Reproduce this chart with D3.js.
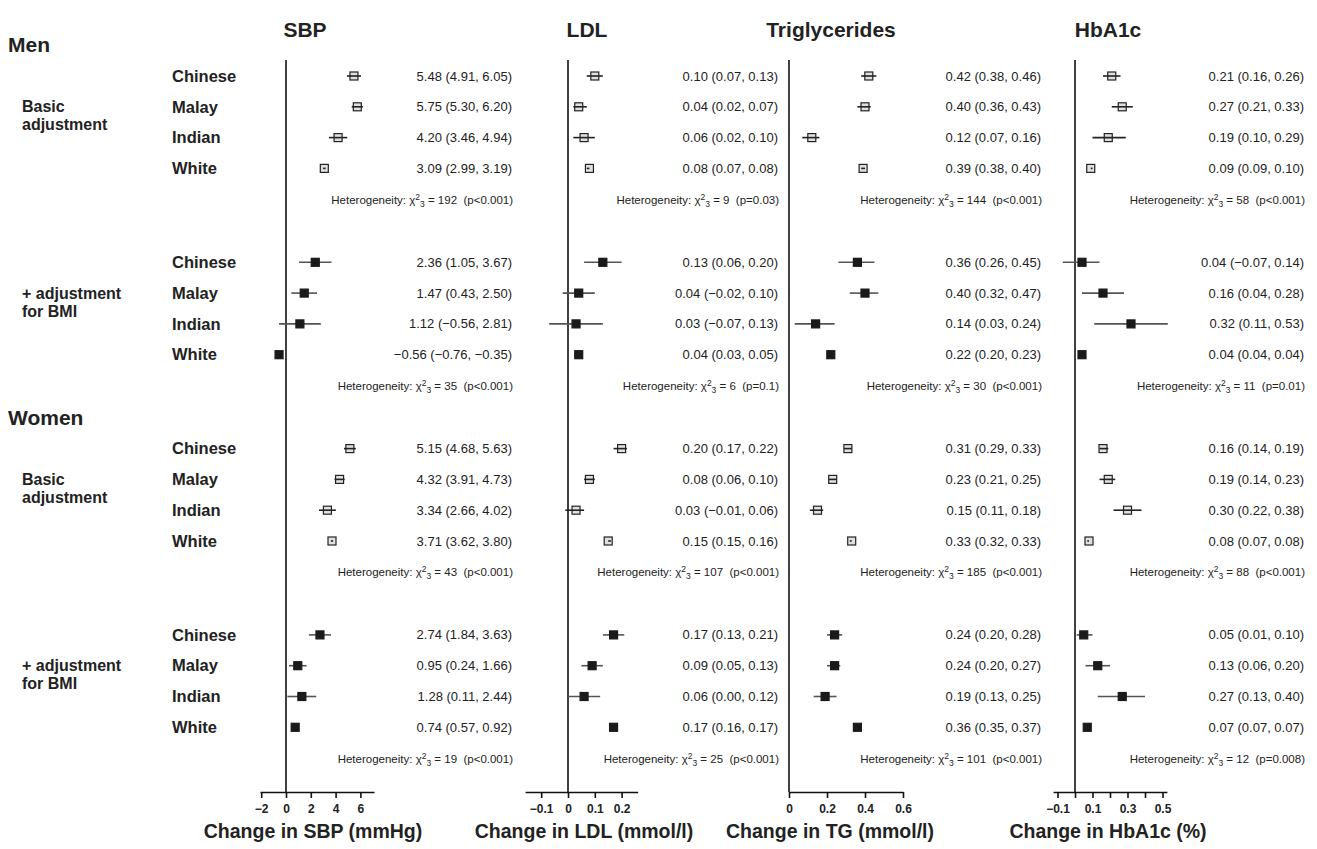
<!DOCTYPE html>
<html>
<head>
<meta charset="utf-8">
<script src="https://cdn.jsdelivr.net/npm/d3@7"></script>
<style>
  body { margin: 0; background: #fff; }
  svg { font-family: "Liberation Sans", Arial, sans-serif; }
</style>
</head>
<body>
<svg width="1317" height="849"></svg>
<script>
// ---- data ----
var ethnicities = ["Chinese", "Malay", "Indian", "White"];
var sexes = ["Men", "Women"];
var adjustments = [["Basic", "adjustment"], ["+ adjustment", "for BMI"]];

// [estimate, lower, upper] ; order: men basic, men BMI, women basic, women BMI
var sbp = [
  [5.48, 4.91, 6.05], [5.75, 5.30, 6.20], [4.20, 3.46, 4.94], [3.09, 2.99, 3.19],
  [2.36, 1.05, 3.67], [1.47, 0.43, 2.50], [1.12, -0.56, 2.81], [-0.56, -0.76, -0.35],
  [5.15, 4.68, 5.63], [4.32, 3.91, 4.73], [3.34, 2.66, 4.02], [3.71, 3.62, 3.80],
  [2.74, 1.84, 3.63], [0.95, 0.24, 1.66], [1.28, 0.11, 2.44], [0.74, 0.57, 0.92]
];
var ldl = [
  [0.10, 0.07, 0.13], [0.04, 0.02, 0.07], [0.06, 0.02, 0.10], [0.08, 0.07, 0.08],
  [0.13, 0.06, 0.20], [0.04, -0.02, 0.10], [0.03, -0.07, 0.13], [0.04, 0.03, 0.05],
  [0.20, 0.17, 0.22], [0.08, 0.06, 0.10], [0.03, -0.01, 0.06], [0.15, 0.15, 0.16],
  [0.17, 0.13, 0.21], [0.09, 0.05, 0.13], [0.06, 0.00, 0.12], [0.17, 0.16, 0.17]
];
var tg = [
  [0.42, 0.38, 0.46], [0.40, 0.36, 0.43], [0.12, 0.07, 0.16], [0.39, 0.38, 0.40],
  [0.36, 0.26, 0.45], [0.40, 0.32, 0.47], [0.14, 0.03, 0.24], [0.22, 0.20, 0.23],
  [0.31, 0.29, 0.33], [0.23, 0.21, 0.25], [0.15, 0.11, 0.18], [0.33, 0.32, 0.33],
  [0.24, 0.20, 0.28], [0.24, 0.20, 0.27], [0.19, 0.13, 0.25], [0.36, 0.35, 0.37]
];
var hba1c = [
  [0.21, 0.16, 0.26], [0.27, 0.21, 0.33], [0.19, 0.10, 0.29], [0.09, 0.09, 0.10],
  [0.04, -0.07, 0.14], [0.16, 0.04, 0.28], [0.32, 0.11, 0.53], [0.04, 0.04, 0.04],
  [0.16, 0.14, 0.19], [0.19, 0.14, 0.23], [0.30, 0.22, 0.38], [0.08, 0.07, 0.08],
  [0.05, 0.01, 0.10], [0.13, 0.06, 0.20], [0.27, 0.13, 0.40], [0.07, 0.07, 0.07]
];
// heterogeneity chi-square (3 df) and p per block
var sbpHet = [[192, "p<0.001"], [35, "p<0.001"], [43, "p<0.001"], [19, "p<0.001"]];
var ldlHet = [[9, "p=0.03"], [6, "p=0.1"], [107, "p<0.001"], [25, "p<0.001"]];
var tgHet = [[144, "p<0.001"], [30, "p<0.001"], [185, "p<0.001"], [101, "p<0.001"]];
var hbHet = [[58, "p<0.001"], [11, "p=0.01"], [88, "p<0.001"], [12, "p=0.008"]];

var sbpTicks = [-2, 0, 2, 4, 6];
var ldlTicks = [-0.1, 0, 0.1, 0.2];
var tgTicks = [0, 0.2, 0.4, 0.6];
var hbTicks = [-0.1, 0, 0.1, 0.2, 0.3, 0.4, 0.5];
var hbLabels = [-0.1, 0.1, 0.3, 0.5];

var panels = [
  {title: "SBP", xlabel: "Change in SBP (mmHg)", data: sbp, het: sbpHet, domain: [-2.1, 7.1], zero: 286, ppu: 12.4,
   ticks: sbpTicks, labels: sbpTicks, textRight: 512, titleX: 305, xlabelX: 313},
  {title: "LDL", xlabel: "Change in LDL (mmol/l)", data: ldl, het: ldlHet, domain: [-0.16, 0.26], zero: 568, ppu: 268,
   ticks: ldlTicks, labels: ldlTicks, textRight: 778, titleX: 587, xlabelX: 584},
  {title: "Triglycerides", xlabel: "Change in TG (mmol/l)", data: tg, het: tgHet, domain: [0, 0.6], zero: 789, ppu: 190,
   ticks: tgTicks, labels: tgTicks, textRight: 1041, titleX: 831, xlabelX: 830},
  {title: "HbA1c", xlabel: "Change in HbA1c (%)", data: hba1c, het: hbHet, domain: [-0.125, 0.525], zero: 1075, ppu: 175,
   ticks: hbTicks, labels: hbLabels, textRight: 1304, titleX: 1108, xlabelX: 1108}
];

// ---- layout ----
var svg = d3.select("svg");
var firstRow = 76, blockGap = 186.3, rowGap = 30.8, axisY = 792, lineTop = 60;
function rowY(block, i) { return firstRow + block * blockGap + i * rowGap; }
function fmt(v) { return v.toFixed(2).replace("-", "\u2212"); }
function fmtTick(v) { return d3.format("")(+v.toFixed(2)).replace("-", "\u2212"); }

// left labels
sexes.forEach(function(s, si) {
  svg.append("text").attr("x", 8).attr("y", rowY(si * 2, 0) - 31)
    .attr("dy", "0.35em").style("font-size", "21px").style("font-weight", "bold").attr("fill", "#222").text(s);
  adjustments.forEach(function(a, ai) {
    var b = si * 2 + ai;
    a.forEach(function(line, li) {
      svg.append("text").attr("x", 22).attr("y", rowY(b, 1) + li * 18)
        .attr("dy", "0.35em").style("font-size", "16px").style("font-weight", "bold").attr("fill", "#222").text(line);
    });
    ethnicities.forEach(function(e, ei) {
      svg.append("text").attr("x", 172).attr("y", rowY(b, ei))
        .attr("dy", "0.35em").style("font-size", "16.5px").style("font-weight", "bold").attr("fill", "#222").text(e);
    });
  });
});

panels.forEach(function(p) {
  var x = d3.scaleLinear().domain(p.domain)
    .range([p.zero + p.domain[0] * p.ppu, p.zero + p.domain[1] * p.ppu]);
  var g = svg.append("g");

  g.append("text").attr("x", p.titleX).attr("y", 30).attr("text-anchor", "middle").attr("dy", "0.35em")
    .style("font-size", "21px").style("font-weight", "bold").attr("fill", "#222").text(p.title);

  g.append("line").attr("x1", x(0)).attr("x2", x(0)).attr("y1", lineTop).attr("y2", axisY)
    .attr("stroke", "#111").attr("stroke-width", 1.6);

  var ax = g.append("g").attr("transform", "translate(0," + axisY + ")")
    .call(d3.axisBottom(x).tickValues(p.ticks).tickSize(6).tickSizeOuter(0).tickPadding(6)
      .tickFormat(function(d) { return p.labels.some(function(l) { return Math.abs(l - d) < 1e-9; }) ? fmtTick(d) : ""; }));
  ax.select(".domain").attr("stroke", "#111").attr("stroke-width", 1.6);
  ax.selectAll(".tick line").attr("stroke", "#111").attr("stroke-width", 1.6);
  ax.selectAll(".tick text").style("font-size", "12px").style("font-weight", "bold")
    .style("font-family", "'Liberation Sans', Arial, sans-serif").attr("fill", "#222");

  g.append("text").attr("x", p.xlabelX).attr("y", 831).attr("text-anchor", "middle").attr("dy", "0.35em")
    .style("font-size", "19.5px").style("font-weight", "bold").attr("fill", "#222").text(p.xlabel);

  p.data.forEach(function(d, k) {
    var block = Math.floor(k / 4), i = k % 4, y = rowY(block, i);
    var basic = block % 2 === 0, s = 8;
    var ci = function(sel) {
      return sel.append("line").attr("x1", x(d[1])).attr("x2", x(d[2])).attr("y1", y).attr("y2", y)
        .attr("stroke", basic ? "#222" : "#555").attr("stroke-width", 1.6);
    };
    if (!basic) ci(g);
    g.append("rect").attr("x", x(d[0]) - s / 2).attr("y", y - s / 2).attr("width", s).attr("height", s)
      .attr("fill", basic ? "#e0e0e0" : "#1a1a1a").attr("stroke", basic ? "#222" : "#1a1a1a").attr("stroke-width", 1.2);
    if (basic) ci(g);
    g.append("text").attr("x", p.textRight).attr("y", y).attr("dy", "0.35em").attr("text-anchor", "end")
      .style("font-size", "13px").attr("fill", "#222")
      .text(fmt(d[0]) + " (" + fmt(d[1]) + ", " + fmt(d[2]) + ")");
  });

  p.het.forEach(function(h, b) {
    var t = g.append("text").attr("x", p.textRight + 1).attr("y", rowY(b, 4) + 0.5).attr("dy", "0.35em")
      .attr("text-anchor", "end").style("font-size", "11.5px").style("white-space", "pre").attr("fill", "#222");
    t.append("tspan").text("Heterogeneity: \u03c7");
    t.append("tspan").attr("dy", "-4").style("font-size", "8.5px").text("2");
    t.append("tspan").attr("dy", "7").style("font-size", "8.5px").text("3");
    t.append("tspan").attr("dy", "-3").text(" = " + h[0] + "  (" + h[1] + ")");
  });
});
</script>
</body>
</html>
